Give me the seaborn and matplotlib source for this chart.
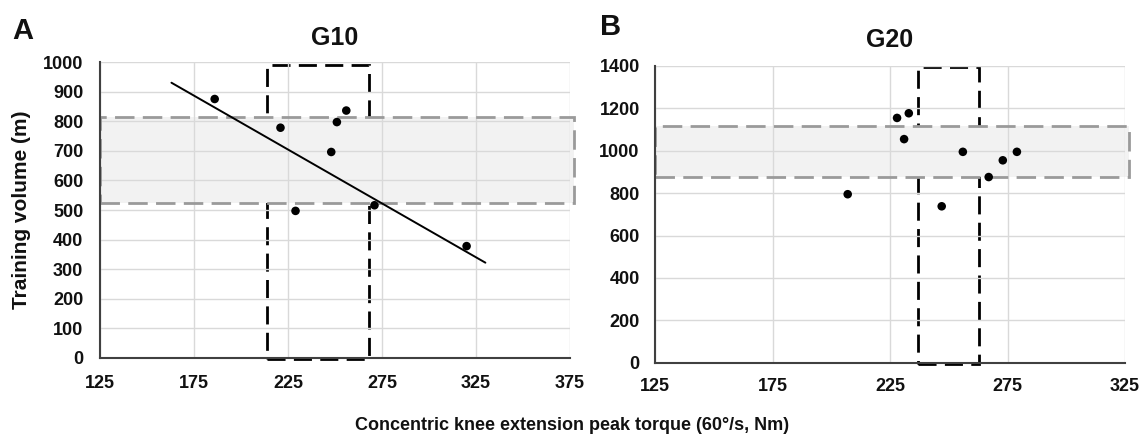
import matplotlib
matplotlib.use("Agg")
import matplotlib.pyplot as plt
from matplotlib.patches import Rectangle
import seaborn as sns
import pandas as pd
import numpy as np

# ---------------- data ----------------
g10_torque = [186, 221, 229, 248, 251, 256, 271, 320]
g10_volume = [875, 778, 497, 696, 797, 836, 516, 378]
g10_trend_x = [163, 330]
g10_trend_y = [930, 322]
g10_band_y = [525, 815]          # grey band (training volume range)
g10_band_x = [125, 377]
g10_box_x = [214, 268]           # black dashed box (torque range)
g10_box_y = [-5, 990]

g20_torque = [207, 228, 233, 231, 247, 256, 267, 273, 279]
g20_volume = [795, 1155, 1177, 1055, 738, 995, 876, 955, 995]
g20_band_y = [878, 1118]
g20_band_x = [125, 326.5]
g20_box_x = [237, 263]
g20_box_y = [-4, 1394]

g10_xticks = [125, 175, 225, 275, 325, 375]
g10_yticks = [0, 100, 200, 300, 400, 500, 600, 700, 800, 900, 1000]
g20_xticks = [125, 175, 225, 275, 325]
g20_yticks = [0, 200, 400, 600, 800, 1000, 1200, 1400]

titles = ["G10", "G20"]
panel_letters = ["A", "B"]
ylabel = "Training volume (m)"
xlabel = "Concentric knee extension peak torque (60°/s, Nm)"

# ---------------- style ----------------
sns.set_style("white")
plt.rcParams["font.family"] = ["Liberation Sans", "DejaVu Sans"]
plt.rcParams["font.weight"] = "bold"
plt.rcParams["text.color"] = "#111111"
plt.rcParams["axes.labelcolor"] = "#111111"
plt.rcParams["axes.titlecolor"] = "#111111"

W, H = 1143, 436
fig = plt.figure(figsize=(W / 100, H / 100), dpi=100)

axA = fig.add_axes([100 / W, 1 - 358 / H, 470 / W, 296 / H])
axB = fig.add_axes([655 / W, 1 - 362.7 / H, 470 / W, 296.7 / H])

band_face = "#f2f2f2"
band_edge = "#9a9a9a"
dash_grey = (0, (7, 3))
dash_black = (0, (6.5, 3))


def setup(ax, xt, yt, title, tpad, lpad):
    ax.set_xlim(xt[0], xt[-1])
    ax.set_ylim(yt[0], yt[-1])
    ax.set_xticks(xt)
    ax.set_yticks(yt)
    ax.set_axisbelow(False)
    ax.grid(True, color="#d9d9d9", linewidth=1.0, zorder=2.5)
    for s in ["top", "right"]:
        ax.spines[s].set_visible(False)
    for s in ["left", "bottom"]:
        ax.spines[s].set_color("#404040")
        ax.spines[s].set_linewidth(1.5)
        ax.spines[s].set_zorder(5)
    ax.tick_params(length=0, labelsize=13, pad=lpad, colors="#111111")
    for lab in ax.get_xticklabels() + ax.get_yticklabels():
        lab.set_fontweight("bold")
    ax.set_title(title, fontsize=18, fontweight="bold", pad=tpad)
    ax.set_xlabel("")
    ax.set_ylabel("")


def add_boxes(ax, bx, by, kx, ky):
    # black dashed box (below band)
    ax.add_patch(Rectangle((kx[0], ky[0]), kx[1] - kx[0], ky[1] - ky[0],
                           fill=False, edgecolor="black", linewidth=2.0,
                           linestyle=dash_black, zorder=1.5, clip_on=False))
    # grey band fill
    ax.add_patch(Rectangle((bx[0], by[0]), bx[1] - bx[0], by[1] - by[0],
                           facecolor=band_face, edgecolor="none",
                           zorder=2, clip_on=False))
    # grey band dashed outline
    ax.add_patch(Rectangle((bx[0], by[0]), bx[1] - bx[0], by[1] - by[0],
                           fill=False, edgecolor=band_edge, linewidth=2.0,
                           linestyle=dash_grey, zorder=2.7, clip_on=False))


# Panel A
add_boxes(axA, g10_band_x, g10_band_y, g10_box_x, g10_box_y)
dfA = pd.DataFrame({"torque": g10_torque, "volume": g10_volume})
trendA = pd.DataFrame({"torque": g10_trend_x, "volume": g10_trend_y})
sns.lineplot(data=trendA, x="torque", y="volume", ax=axA, color="black",
             linewidth=1.4, zorder=3.5)
sns.scatterplot(data=dfA, x="torque", y="volume", ax=axA, color="black",
                s=38, edgecolor="none", zorder=4)
setup(axA, g10_xticks, g10_yticks, titles[0], 12, 12)

# Panel B
add_boxes(axB, g20_band_x, g20_band_y, g20_box_x, g20_box_y)
dfB = pd.DataFrame({"torque": g20_torque, "volume": g20_volume})
sns.scatterplot(data=dfB, x="torque", y="volume", ax=axB, color="black",
                s=38, edgecolor="none", zorder=4)
setup(axB, g20_xticks, g20_yticks, titles[1], 14, 11)

# Panel letters
fig.text(12 / W, 1 - 39 / H, panel_letters[0], fontsize=21, fontweight="bold",
         ha="left", va="baseline")
fig.text(600 / W, 1 - 35 / H, panel_letters[1], fontsize=21, fontweight="bold",
         ha="left", va="baseline")

# Shared labels
fig.text(22 / W, 1 - 210 / H, ylabel, rotation=90, fontsize=15,
         fontweight="bold", ha="center", va="center")
fig.text(572 / W, 1 - 430 / H, xlabel, fontsize=13, fontweight="bold",
         ha="center", va="baseline")

fig.savefig("out.png", dpi=100)
